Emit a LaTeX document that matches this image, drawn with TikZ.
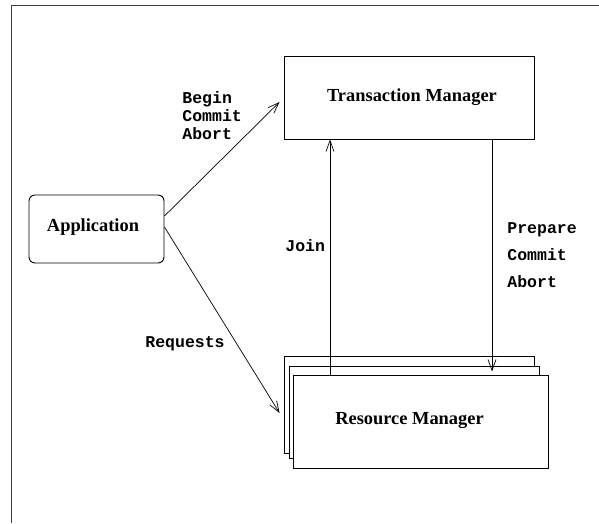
\documentclass[tikz,border=0pt]{standalone}
\usepackage{fontspec}
\setmainfont{Liberation Serif}
\newfontfamily\labelmono{Liberation Mono}
\usetikzlibrary{arrows.meta}

\begin{document}
\begin{tikzpicture}[x=1pt, y=-1pt,
  line width=0.8pt,
  box/.style={draw, line width=0.9pt, fill=white, inner sep=0pt},
  boxtext/.style={font=\fontsize{18.4}{22}\selectfont\bfseries, inner sep=0pt},
  msg/.style={font=\labelmono\fontsize{16.5}{18}\selectfont\bfseries, inner sep=0pt, anchor=west, align=left},
  arr/.style={-{Straight Barb[length=11pt, width=8pt, line width=0.7pt]}, line width=0.7pt}
]
\useasboundingbox (0,0) rectangle (599,523);

% outer frame (open on the right and bottom)
\draw[line width=0.9pt, black!75] (11,523) -- (11,5) -- (599,5);

% participants
\node[box, minimum width=250pt, minimum height=83pt] (tm) at (409,97.5) {};
\node[boxtext] (tmtext) at (412,97) {Transaction Manager};

\node[box, rounded corners=6pt, minimum width=135pt, minimum height=68pt] (app) at (96.5,229) {};
\node[boxtext] (apptext) at (93,227) {Application};

% stacked resource managers
\node[box, minimum width=250pt, minimum height=97pt] (rmback) at (409,404.5) {};
\node[box, minimum width=250pt, minimum height=92pt] (rmmid) at (414,412) {};
\node[box, minimum width=255pt, minimum height=93pt] (rm) at (420.5,421.5) {};
\node[boxtext] (rmtext) at (409.5,420) {Resource Manager};

% connectors
\draw[arr] ([yshift=13pt]app.east) -- ([xshift=-4pt, yshift=-4.5pt]tm.west);
\draw[arr] ([yshift=2pt]app.east) -- ([xshift=-4pt, yshift=-8.5pt]rmback.west);

\coordinate (joinx) at (330,0);
\coordinate (prepx) at (492,0);
\draw[arr] (joinx |- rm.north) -- (joinx |- tm.south);
\draw[arr] (prepx |- tm.south) -- ([yshift=3pt]prepx |- rm.north);

% message labels
\node[msg] (beginlbl) at (182,116) {Begin\\Commit\\Abort};
\node[msg, font=\labelmono\fontsize{16.5}{27}\selectfont\bfseries] (preplbl) at (507,255) {Prepare\\Commit\\Abort};
\node[msg] (reqlbl) at (145,344) {Requests};
\node[msg] (joinlbl) at (285,246) {Join};
\end{tikzpicture}
\end{document}
